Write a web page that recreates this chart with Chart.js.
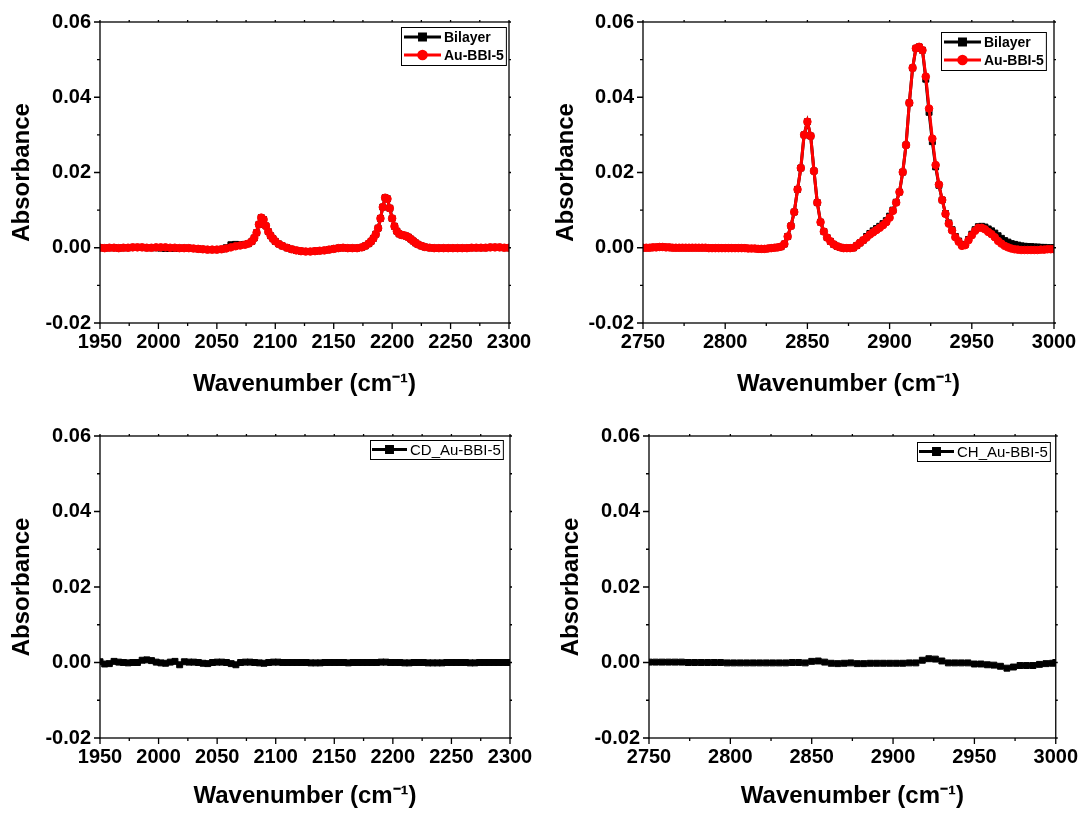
<!DOCTYPE html>
<html>
<head>
<meta charset="utf-8">
<script src="https://cdn.jsdelivr.net/npm/chart.js@4.4.1/dist/chart.umd.min.js"></script>
<style>
html,body{margin:0;padding:0;background:#fff;}
body{width:1085px;height:813px;position:relative;overflow:hidden;}
.p{position:absolute;}
</style>
</head>
<body>
<div class="p" style="left:0;top:0;width:540px;height:400px"><canvas id="c1"></canvas></div>
<div class="p" style="left:540px;top:0;width:545px;height:400px"><canvas id="c2"></canvas></div>
<div class="p" style="left:0;top:400px;width:540px;height:413px"><canvas id="c3"></canvas></div>
<div class="p" style="left:540px;top:400px;width:545px;height:413px"><canvas id="c4"></canvas></div>
<script>
// ---------- DATA ----------
const yTickLabels = ['-0.02','0.00','0.02','0.04','0.06'];
const xTicksCD = [1950,2000,2050,2100,2150,2200,2250,2300];
const xTicksCH = [2750,2800,2850,2900,2950,3000];

// Top-left panel (CD region)
const tlWavenumber = [1950,1954,1958,1962,1966,1970,1974,1978,1982,1986,1990,1994,1998,2002,2006,2010,2014,2018,2022,2026,2030,2034,2038,2042,2046,2050,2054,2058,2062,2066,2070,2074,
  2077,2080,
  2082,2084,2086,2088,2090,2092,2094,2096,2098,2100,
  2103,2106,
  2110,2114,2118,2122,2126,2130,2134,2138,2142,2146,2150,2154,2158,2162,2166,2170,2174,
  2177,2180,
  2182,2184,2186,2188,2190,2192,2194,2196,2198,2200,2202,2204,2206,2208,2210,2212,2214,2216,2218,2220,2222,
  2225,2228,
  2232,2236,2240,2244,2248,2252,2256,2260,2264,2268,2272,2276,2280,2284,2288,2292,2296,2300];
const tlAuBBI5 = [0.0000,-0.0001,0.0000,0.0000,-0.0001,0.0000,0.0000,0.0001,0.0001,0.0001,0.0000,0.0000,0.0001,0.0001,0.0001,0.0000,0.0000,-0.0001,-0.0001,-0.0001,-0.0002,-0.0003,-0.0004,-0.0005,-0.0005,-0.0005,-0.0004,-0.0002,0.0001,0.0004,0.0006,0.0008,
  0.0011,0.0017,
  0.0026,0.0040,0.0062,0.0080,0.0075,0.0058,0.0043,0.0032,0.0024,0.0017,
  0.0010,0.0005,
  0.0000,-0.0004,-0.0007,-0.0009,-0.0010,-0.0010,-0.0009,-0.0008,-0.0007,-0.0005,-0.0003,-0.0001,0.0000,-0.0001,-0.0001,-0.0001,0.0001,
  0.0005,0.0011,
  0.0017,0.0025,0.0036,0.0052,0.0078,0.0108,0.0133,0.0130,0.0105,0.0078,0.0057,0.0044,0.0037,0.0034,0.0033,0.0031,0.0028,0.0023,0.0018,0.0013,0.0009,
  0.0005,0.0002,
  0.0000,-0.0001,-0.0001,-0.0001,-0.0001,-0.0001,-0.0001,-0.0001,-0.0001,0.0000,0.0000,0.0000,0.0000,0.0001,0.0001,0.0001,0.0000,0.0000];
const tlBilayer = [0.0000,-0.0001,0.0000,0.0000,-0.0001,0.0000,0.0000,0.0001,0.0001,0.0001,0.0000,0.0000,0.0000,-0.0001,-0.0002,-0.0002,-0.0002,-0.0001,-0.0001,-0.0001,-0.0002,-0.0003,-0.0004,-0.0005,-0.0005,-0.0005,-0.0004,0.0000,0.0008,0.0009,0.0008,0.0009,
  0.0011,0.0017,
  0.0026,0.0040,0.0062,0.0080,0.0075,0.0058,0.0043,0.0032,0.0024,0.0017,
  0.0010,0.0005,
  0.0000,-0.0004,-0.0007,-0.0009,-0.0010,-0.0010,-0.0009,-0.0008,-0.0007,-0.0005,-0.0003,-0.0001,0.0000,-0.0001,-0.0001,-0.0001,0.0001,
  0.0005,0.0011,
  0.0017,0.0025,0.0036,0.0052,0.0078,0.0108,0.0133,0.0130,0.0105,0.0078,0.0057,0.0044,0.0037,0.0034,0.0033,0.0031,0.0028,0.0023,0.0018,0.0013,0.0009,
  0.0005,0.0002,
  0.0000,-0.0001,-0.0001,-0.0001,-0.0001,-0.0001,-0.0001,-0.0001,-0.0001,0.0000,0.0000,0.0000,0.0000,0.0001,0.0001,0.0001,0.0000,0.0000];

// Top-right panel (CH region)
const trWavenumber = [2750,2752,2754,2756,2758,2760,2762,2764,2766,2768,
  2770,2772,2774,2776,2778,2780,2782,2784,2786,2788,
  2790,2792,2794,2796,2798,2800,2802,2804,2806,2808,
  2810,2812,2814,2816,2818,2820,2822,2824,2826,2828,
  2830,
  2832,2834,2836,2838,2840,2842,2844,2846,2848,2850,2852,2854,2856,2858,2860,2862,2864,2866,2868,2870,
  2872,2874,2876,2878,2880,2882,2884,2886,2888,2890,2892,2894,2896,2898,2900,2902,2904,2906,2908,2910,
  2912,2914,2916,2918,2920,2922,2924,2926,2928,2930,2932,2934,2936,2938,2940,2942,2944,2946,2948,2950,
  2952,2954,2956,2958,2960,2962,2964,2966,2968,2970,
  2972,2974,2976,2978,2980,2982,2984,2986,2988,2990,2992,2994,2996,2998,3000];
const trAuBBI5 = [0.0000,0.0000,0.0000,0.0001,0.0001,0.0002,0.0002,0.0001,0.0001,0.0000,
  0.0000,0.0000,0.0000,0.0000,0.0000,0.0000,0.0000,0.0000,0.0000,0.0000,
  -0.0001,-0.0001,-0.0001,-0.0001,-0.0001,-0.0001,-0.0001,-0.0001,-0.0001,-0.0001,
  -0.0001,-0.0001,-0.0002,-0.0002,-0.0002,-0.0003,-0.0003,-0.0003,-0.0002,-0.0001,
  0.0000,
  0.0001,0.0003,0.0010,0.0030,0.0058,0.0095,0.0155,0.0212,0.0300,0.0335,0.0297,0.0204,0.0120,0.0068,0.0043,0.0027,0.0017,0.0009,0.0004,0.0001,
  -0.0001,-0.0001,-0.0001,0.0000,0.0006,0.0013,0.0020,0.0027,0.0035,0.0041,0.0047,0.0053,0.0060,0.0068,0.0080,0.0098,0.0120,0.0148,0.0201,0.0273,
  0.0385,0.0478,0.0530,0.0534,0.0525,0.0455,0.0370,0.0290,0.0220,0.0168,0.0127,0.0090,0.0064,0.0046,0.0028,0.0016,0.0005,0.0007,0.0020,0.0033,
  0.0045,0.0053,0.0053,0.0049,0.0042,0.0036,0.0028,0.0018,0.0011,0.0005,
  0.0001,-0.0002,-0.0004,-0.0005,-0.0006,-0.0006,-0.0006,-0.0006,-0.0006,-0.0006,-0.0005,-0.0005,-0.0004,-0.0004,-0.0004];
const trBilayer = [0.0000,0.0000,0.0000,0.0001,0.0001,0.0002,0.0002,0.0001,0.0001,0.0000,
  0.0000,0.0000,0.0000,0.0000,0.0000,0.0000,0.0000,0.0000,0.0000,0.0000,
  -0.0001,-0.0001,-0.0001,-0.0001,-0.0001,-0.0001,-0.0001,-0.0001,-0.0001,-0.0001,
  -0.0001,-0.0001,-0.0002,-0.0002,-0.0002,-0.0003,-0.0003,-0.0003,-0.0002,-0.0001,
  0.0000,
  0.0001,0.0003,0.0010,0.0030,0.0058,0.0095,0.0155,0.0212,0.0300,0.0335,0.0297,0.0204,0.0120,0.0068,0.0043,0.0027,0.0017,0.0009,0.0004,0.0001,
  -0.0001,-0.0001,-0.0001,0.0000,0.0006,0.0013,0.0020,0.0030,0.0038,0.0045,0.0051,0.0057,0.0064,0.0072,0.0084,0.0100,0.0121,0.0148,0.0201,0.0273,
  0.0385,0.0478,0.0530,0.0534,0.0525,0.0448,0.0360,0.0282,0.0215,0.0166,0.0127,0.0091,0.0066,0.0048,0.0030,0.0018,0.0007,0.0009,0.0022,0.0036,
  0.0048,0.0056,0.0057,0.0055,0.0050,0.0045,0.0039,0.0032,0.0025,0.0019,
  0.0015,0.0011,0.0009,0.0007,0.0005,0.0004,0.0003,0.0003,0.0002,0.0002,0.0001,0.0001,0.0000,0.0000,0.0000];

// Bottom-left panel
const blWavenumber = [1950,1954,1958,1962,1966,1970,1974,1978,1982,1986,1990,1994,1998,2002,2006,2010,2014,2018,2022,2026,2030,2034,2038,2042,2046,2050,2054,2058,2062,2066,
  2070,2074,2078,2082,2086,2090,2094,2098,2102,2106,2110,2114,2118,2122,2126,2130,2134,2138,2142,2146,2150,2154,2158,2162,2166,2170,2174,2178,2182,2186,
  2190,2194,2198,2202,2206,2210,2214,2218,2222,2226,2230,2234,2238,2242,2246,2250,2254,2258,2262,2266,2270,2274,2278,2282,2286,2290,2294,2298,2300];
const blCDAuBBI5 = [0.0002,-0.0004,-0.0003,0.0003,0.0001,0.0000,-0.0001,0.0000,0.0000,0.0006,0.0007,0.0005,0.0001,-0.0001,-0.0002,0.0001,0.0003,-0.0006,0.0002,0.0001,0.0001,0.0000,-0.0002,-0.0003,0.0000,0.0001,0.0001,0.0000,-0.0003,-0.0006,
  0.0000,0.0001,0.0001,0.0000,-0.0001,-0.0002,0.0000,0.0001,0.0001,0.0000,0.0000,0.0000,0.0000,0.0000,0.0000,-0.0001,-0.0001,-0.0001,0.0000,0.0000,0.0000,0.0000,0.0000,-0.0001,0.0000,0.0000,0.0000,0.0000,0.0000,0.0000,
  0.0001,0.0001,0.0000,0.0000,0.0000,-0.0001,-0.0001,0.0000,0.0000,0.0000,-0.0001,-0.0001,-0.0001,-0.0001,0.0000,0.0000,0.0000,0.0000,0.0000,-0.0001,-0.0001,0.0000,0.0000,0.0000,0.0000,0.0000,0.0000,0.0000,0.0000];

// Bottom-right panel
const brWavenumber = [2750,2754,2758,2762,2766,2770,2774,2778,2782,2786,2790,2794,2798,2802,2806,2810,2814,2818,2822,2826,2830,2834,2838,2842,2846,2850,2854,2858,2862,2866,
  2870,2874,2878,2882,2886,2890,2894,2898,2902,2906,2910,2914,2918,2922,2926,2930,2934,2938,2942,2946,2950,2954,2958,2962,2966,2970,2974,2978,2982,2986,
  2990,2994,2998,3000];
const brCHAuBBI5 = [0.0001,0.0001,0.0001,0.0001,0.0001,0.0001,0.0000,0.0000,0.0000,0.0000,0.0000,0.0000,-0.0001,-0.0001,-0.0001,-0.0001,-0.0001,-0.0001,-0.0001,-0.0001,-0.0001,-0.0001,0.0000,0.0000,-0.0001,0.0003,0.0004,0.0001,-0.0002,-0.0003,
  -0.0002,-0.0001,-0.0003,-0.0003,-0.0002,-0.0002,-0.0002,-0.0002,-0.0002,-0.0002,-0.0001,-0.0001,0.0006,0.0010,0.0009,0.0004,-0.0001,-0.0001,-0.0001,-0.0001,-0.0004,-0.0004,-0.0006,-0.0007,-0.0010,-0.0015,-0.0012,-0.0008,-0.0008,-0.0008,
  -0.0005,-0.0003,-0.0002,0.0000];

// ---------- RENDERING ----------
Chart.defaults.font.family = '"Liberation Sans", Arial, sans-serif';
Chart.defaults.color = '#000';

const pts = (xs, ys) => xs.map((x, i) => ({x: x, y: ys[i]}));

const frameTicks = {
  id: 'frameTicks',
  afterDatasetsDraw(chart, args, o) {
    const {ctx, chartArea: a, scales: {x, y}} = chart;
    ctx.save();
    ctx.strokeStyle = '#000';
    ctx.lineWidth = 1.3;
    ctx.strokeRect(a.left, a.top, a.right - a.left, a.bottom - a.top);
    ctx.beginPath();
    const nx = Math.round((x.max - x.min) / o.xMinor);
    for (let i = 0; i <= nx; i++) {
      const px = x.getPixelForValue(x.min + i * o.xMinor);
      const major = i % 2 === 0;
      ctx.moveTo(px, a.bottom); ctx.lineTo(px, a.bottom + (major ? 6 : 3));
      ctx.moveTo(px, a.top); ctx.lineTo(px, a.top - 2);
    }
    const ny = Math.round((y.max - y.min) / o.yMinor);
    for (let i = 0; i <= ny; i++) {
      const py = y.getPixelForValue(y.min + i * o.yMinor);
      const major = i % 2 === 0;
      ctx.moveTo(a.left, py); ctx.lineTo(a.left - (major ? 6 : 3), py);
      ctx.moveTo(a.right, py); ctx.lineTo(a.right + 2, py);
    }
    ctx.stroke();
    ctx.restore();
  }
};

const boxLegend = {
  id: 'boxLegend',
  afterDraw(chart, args, o) {
    const {ctx, chartArea: a} = chart;
    const items = chart.data.datasets;
    ctx.save();
    ctx.font = o.font;
    const tw = Math.max(...items.map(d => ctx.measureText(d.label).width));
    const w = o.padL + o.lineLen + o.gap + tw + o.padR;
    const h = o.rowH * items.length + o.padV * 2;
    const x0 = Math.round(a.right - o.dx - w), y0 = Math.round(a.top + o.dy);
    ctx.fillStyle = '#fff';
    ctx.fillRect(x0, y0, w, h);
    ctx.strokeStyle = '#000'; ctx.lineWidth = 1;
    ctx.strokeRect(x0 + 0.5, y0 + 0.5, w, h);
    items.forEach((d, i) => {
      const cy = y0 + o.padV + o.rowH * (i + 0.5);
      const lx0 = x0 + o.padL, lx1 = lx0 + o.lineLen;
      ctx.strokeStyle = d.borderColor; ctx.lineWidth = 3;
      ctx.beginPath(); ctx.moveTo(lx0, cy); ctx.lineTo(lx1, cy); ctx.stroke();
      ctx.fillStyle = d.pointBackgroundColor; ctx.strokeStyle = d.borderColor;
      Chart.helpers.drawPoint(ctx, {pointStyle: d.pointStyle, radius: d.pointRadius, borderWidth: 1, rotation: 0}, (lx0 + lx1) / 2, cy);
      ctx.fillStyle = '#000'; ctx.textBaseline = 'middle'; ctx.textAlign = 'left';
      ctx.fillText(d.label, lx1 + o.gap, cy + 1);
    });
    ctx.restore();
  }
};

function ds(label, xs, ys, color, style, order) {
  return {
    label: label,
    data: pts(xs, ys),
    borderColor: color,
    backgroundColor: color,
    pointBackgroundColor: color,
    pointBorderColor: color,
    pointBorderWidth: 1,
    pointStyle: style,
    pointRadius: style === 'rect' ? 4.2 : 3.8,
    borderWidth: 3,
    tension: 0,
    order: order
  };
}

function makeChart(id, datasets, xr, xTicks, p) {
  new Chart(document.getElementById(id), {
    type: 'line',
    data: {datasets: datasets},
    plugins: [frameTicks, boxLegend],
    options: {
      responsive: true,
      maintainAspectRatio: false,
      animation: false,
      devicePixelRatio: 1,
      layout: {padding: {top: p.top, right: p.right, left: 0, bottom: 0}},
      plugins: {
        legend: {display: false},
        tooltip: {enabled: false},
        frameTicks: {xMinor: 25, yMinor: 0.01},
        boxLegend: p.legend
      },
      scales: {
        x: {
          type: 'linear', min: xr[0], max: xr[1],
          afterBuildTicks: s => { s.ticks = xTicks.map(v => ({value: v})); },
          afterFit: s => { s.height = p.xH; },
          grid: {display: false, drawTicks: false},
          border: {display: false},
          ticks: {font: {size: 20, weight: 'bold'}, padding: 7, maxRotation: 0, autoSkip: false,
                  callback: v => String(v)},
          title: {display: true, text: 'Wavenumber (cm\u207B\u00B9)', font: {size: 24, weight: 'bold'},
                  padding: {top: 0, bottom: p.xTitlePad}}
        },
        y: {
          type: 'linear', min: -0.02, max: 0.06,
          afterBuildTicks: s => { s.ticks = yTickLabels.map(t => ({value: parseFloat(t)})); },
          afterFit: s => { s.width = p.yW; },
          grid: {display: false, drawTicks: false},
          border: {display: false},
          ticks: {font: {size: 20, weight: 'bold'}, padding: 9,
                  callback: (v, i) => yTickLabels[i]},
          title: {display: true, text: 'Absorbance', font: {size: 24, weight: 'bold'},
                  padding: {top: p.yTitlePad, bottom: 0}}
        }
      }
    }
  });
}

const legendTop = {font: 'bold 14px "Liberation Sans", Arial, sans-serif', padL: 3, lineLen: 37, gap: 3, padR: 2, rowH: 18, padV: 1};
const legendBot = {font: '15px "Liberation Sans", Arial, sans-serif', padL: 2, lineLen: 35, gap: 3, padR: 2, rowH: 17, padV: 1};

makeChart('c1', [
  ds('Bilayer', tlWavenumber, tlBilayer, '#000000', 'rect', 1),
  ds('Au-BBI-5', tlWavenumber, tlAuBBI5, '#ff0000', 'circle', 0)
], [1950, 2300], xTicksCD,
  {top: 22, right: 31, yW: 100, xH: 77, xTitlePad: 1, yTitlePad: 8, legend: Object.assign({dx: 3, dy: 5}, legendTop)});

makeChart('c2', [
  ds('Bilayer', trWavenumber, trBilayer, '#000000', 'rect', 1),
  ds('Au-BBI-5', trWavenumber, trAuBBI5, '#ff0000', 'circle', 0)
], [2750, 3000], xTicksCH,
  {top: 22, right: 31, yW: 103, xH: 77, xTitlePad: 1, yTitlePad: 12, legend: Object.assign({dx: 8, dy: 10}, legendTop)});

makeChart('c3', [
  ds('CD_Au-BBI-5', blWavenumber, blCDAuBBI5, '#000000', 'rect', 0)
], [1950, 2300], xTicksCD,
  {top: 36, right: 30, yW: 100, xH: 75, xTitlePad: 2, yTitlePad: 8, legend: Object.assign({dx: 7, dy: 4}, legendBot)});

makeChart('c4', [
  ds('CH_Au-BBI-5', brWavenumber, brCHAuBBI5, '#000000', 'rect', 0)
], [2750, 3000], xTicksCH,
  {top: 36, right: 25, yW: 109, xH: 75, xTitlePad: 2, yTitlePad: 17, legend: Object.assign({dx: 6, dy: 6}, legendBot)});
</script>
</body>
</html>
